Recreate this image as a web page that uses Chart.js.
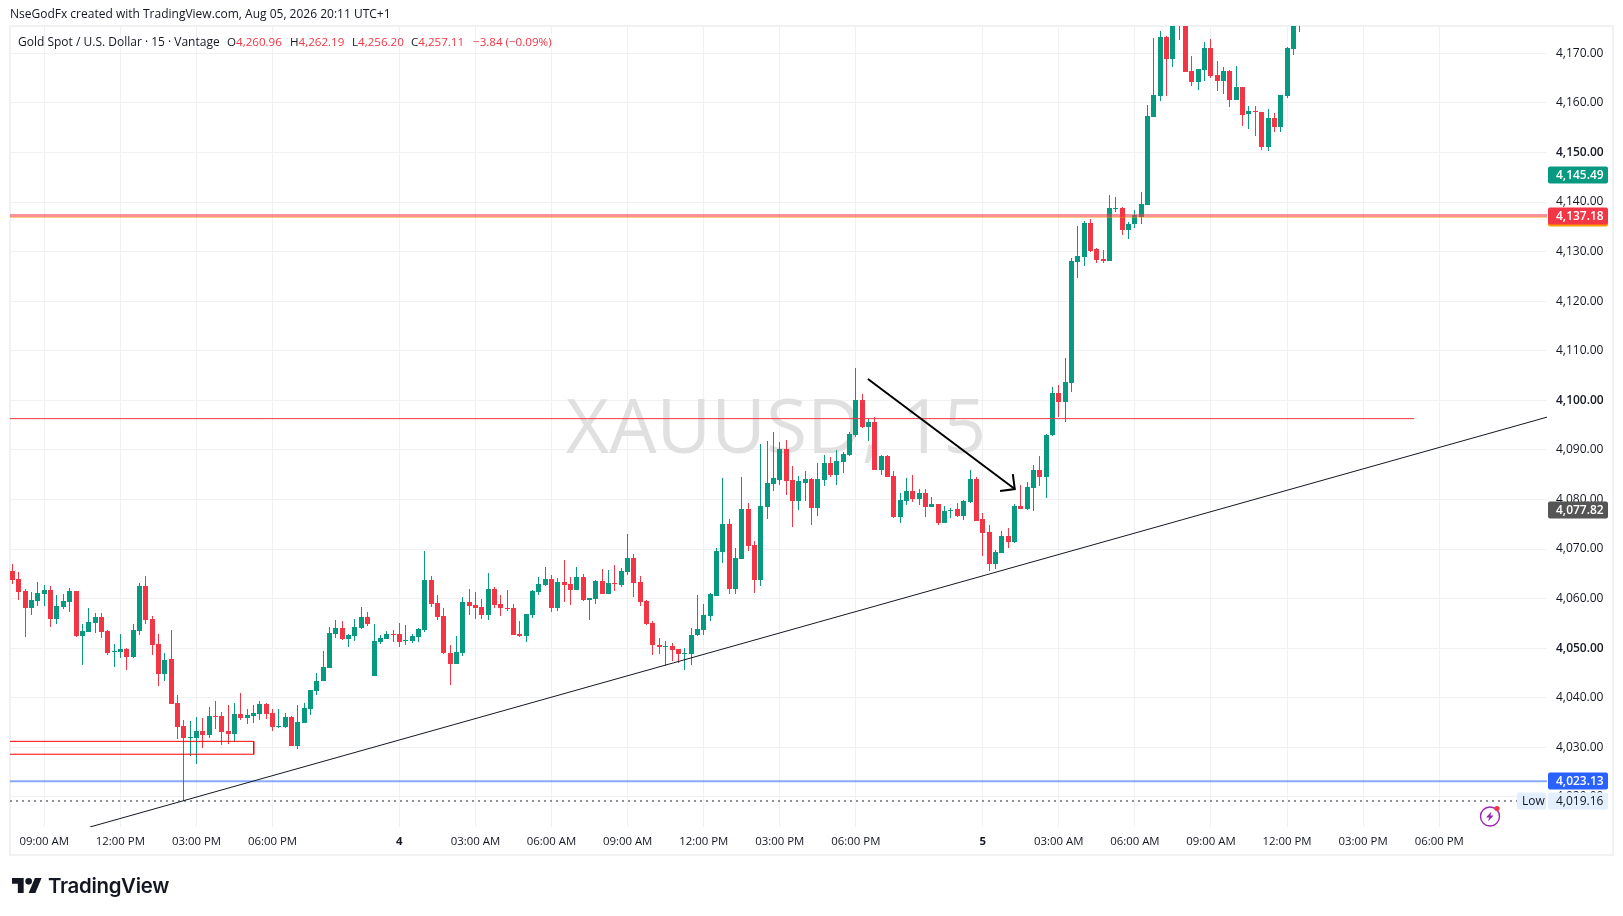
<!DOCTYPE html>
<html>
<head>
<meta charset="utf-8">
<title>XAUUSD 15</title>
<script src="https://cdn.jsdelivr.net/npm/chart.js@4"></script>
<style>
  html, body { margin: 0; padding: 0; background: #fff; }
  body { width: 1623px; height: 916px; position: relative; overflow: hidden; font-family: "Open Sans", sans-serif; color: #131722; }
  canvas { position: absolute; left: 0; top: 0; }
  .txt { position: absolute; white-space: pre; font-size: 12px; line-height: 16px; }
  .val { font-size: 11.6px; }
  .red { color: #f23645; }
</style>
</head>
<body>
<canvas id="chart" width="1623" height="916"></canvas>

<div class="txt" style="left:10px;top:6px">NseGodFx created with TradingView.com, Aug 05, 2026 20:11 UTC+1</div>
<div class="txt" style="left:18px;top:34px">Gold Spot / U.S. Dollar · 15 · Vantage</div>
<div class="txt val" style="left:227px;top:34px">O<span class="red">4,260.96</span></div>
<div class="txt val" style="left:290px;top:34px">H<span class="red">4,262.19</span></div>
<div class="txt val" style="left:352px;top:34px">L<span class="red">4,256.20</span></div>
<div class="txt val" style="left:411px;top:34px">C<span class="red">4,257.11</span></div>
<div class="txt val red" style="left:473px;top:34px">−3.84 (−0.09%)</div>

<svg style="position:absolute;left:12px;top:878px" width="30" height="15" viewBox="0 4 36 18">
  <path fill="#131722" d="M14 22H7V11H0V4h14v18zM28 22h-8l7.5-18h8L28 22z"/>
  <circle fill="#131722" cx="20" cy="8" r="4"/>
</svg>
<div class="txt" style="left:48px;top:872px;font:600 20.4px/28px Inter, sans-serif;letter-spacing:-0.3px">TradingView</div>

<svg style="position:absolute;left:1478px;top:804px" width="24" height="24" viewBox="0 0 24 24">
  <circle cx="12" cy="12.5" r="9.5" fill="none" stroke="#9c27b0" stroke-width="1.4"/>
  <path fill="#9c27b0" d="M13.5 7.5 8 13.5h3.2L10 17.5l5.6-6h-3.2z"/>
  <circle cx="19" cy="4.5" r="2.6" fill="#f23645"/>
</svg>

<script>
const open = [
  4065.6,4064.0,4061.6,4058.0,4059.6,4061.0,4061.8,4055.9,4058.4,4059.4,
  4061.6,4052.5,4053.3,4055.1,4056.3,4053.5,4049.3,4049.3,4049.9,4048.3,
  4053.5,4062.6,4055.9,4050.9,4044.8,4047.8,4039.0,4034.3,4031.9,4031.9,
  4033.3,4032.5,4036.3,4036.3,4033.3,4032.7,4036.7,4035.9,4036.3,4036.7,
  4038.8,4037.0,4034.1,4034.1,4036.1,4030.3,4034.9,4037.8,4041.4,4043.4,
  4046.0,4052.9,4054.1,4051.9,4052.5,4054.1,4056.3,4044.4,4051.3,4051.9,
  4052.9,4052.9,4051.5,4051.5,4052.3,4053.7,4063.8,4059.2,4056.5,4049.1,
  4046.9,4049.1,4059.4,4058.8,4058.4,4056.7,4062.0,4059.0,4058.2,4058.0,
  4052.9,4052.5,4056.7,4061.4,4062.8,4064.0,4058.0,4063.4,4063.0,4061.8,
  4064.4,4059.8,4060.0,4063.6,4061.0,4063.2,4062.8,4065.4,4068.2,4063.4,
  4059.6,4055.1,4050.7,4050.3,4050.5,4049.9,4048.9,4048.8,4052.7,4053.7,
  4056.5,4060.6,4069.3,4075.0,4061.85,4067.9,4078.0,4070.9,4063.7,4078.4,
  4083.2,4083.9,4090.1,4083.9,4079.6,4083.4,4084.1,4078.2,4083.9,4087.3,
  4084.9,4087.5,4088.9,4093.1,4100.0,4094.55,4095.6,4085.9,4088.7,4084.7,
  4076.4,4079.6,4081.8,4080.0,4081.4,4078.4,4079.0,4075.2,4077.6,4078.0,
  4076.6,4079.4,4084.1,4076.0,4073.4,4066.9,4069.1,4072.6,4071.5,4078.6,
  4078.1,4082.3,4086.0,4084.5,4093.0,4101.4,4099.6,4103.4,4128.0,4129.0,
  4135.85,4130.6,4128.6,4128.2,4138.5,4138.7,4134.4,4135.5,4137.05,4139.4,
  4157.1,4161.4,4173.3,4168.9,4176.5,4178.0,4166.4,4164.2,4166.6,4171.1,
  4165.6,4164.4,4166.4,4160.6,4163.2,4157.8,4158.4,4158.2,4151.1,4156.9,
  4155.1,4161.4,4170.9,4176.5
];
const high = [
  4067.0,4065.4,4062.0,4061.4,4063.4,4062.8,4062.6,4060.8,4061.0,4062.2,
  4061.6,4054.9,4058.2,4057.1,4057.1,4053.7,4050.9,4052.9,4050.1,4054.9,
  4063.2,4064.6,4056.5,4052.9,4049.1,4053.7,4040.6,4035.5,4035.3,4036.1,
  4035.9,4038.2,4039.4,4037.2,4038.6,4039.0,4041.0,4037.8,4038.6,4039.4,
  4039.0,4037.8,4037.8,4037.0,4036.3,4038.6,4039.0,4041.6,4045.0,4049.5,
  4054.3,4055.7,4055.5,4052.9,4055.9,4058.4,4057.3,4054.9,4052.7,4053.5,
  4053.7,4055.1,4054.7,4052.9,4054.1,4069.5,4064.6,4060.8,4058.2,4050.7,
  4052.5,4060.4,4062.0,4061.4,4060.0,4065.2,4062.4,4060.8,4061.8,4059.0,
  4055.5,4056.9,4061.8,4064.4,4066.4,4064.8,4064.2,4067.8,4064.4,4066.4,
  4065.0,4060.2,4063.8,4066.0,4065.8,4066.8,4066.2,4073.1,4068.9,4064.6,
  4059.8,4055.5,4052.1,4051.5,4051.1,4049.9,4050.1,4054.1,4060.7,4058.9,
  4061.1,4070.3,4084.3,4076.0,4070.3,4084.5,4079.2,4071.7,4091.1,4091.7,
  4093.7,4091.5,4091.9,4086.7,4084.7,4085.7,4084.3,4087.3,4088.9,4088.5,
  4089.9,4089.5,4093.7,4106.5,4101.2,4096.2,4096.6,4088.9,4088.9,4085.7,
  4081.2,4084.3,4084.9,4082.2,4082.2,4080.4,4079.0,4078.6,4078.2,4079.2,
  4079.8,4085.9,4084.5,4077.2,4074.8,4069.9,4073.6,4074.2,4079.0,4083.0,
  4083.5,4087.0,4088.8,4093.2,4102.6,4103.0,4108.5,4128.7,4135.2,4136.2,
  4136.65,4130.8,4130.4,4141.5,4141.1,4138.9,4136.0,4138.3,4142.1,4159.6,
  4173.1,4174.5,4173.5,4178.0,4180.0,4179.0,4169.5,4166.8,4172.3,4172.9,
  4168.5,4167.2,4166.6,4167.4,4163.2,4159.4,4159.4,4158.2,4158.8,4158.0,
  4161.6,4171.3,4176.5,4179.0
];
const low = [
  4063.0,4059.8,4052.3,4056.7,4058.6,4058.6,4054.3,4054.9,4057.8,4057.3,
  4052.3,4046.6,4053.3,4053.1,4052.1,4048.7,4046.2,4048.1,4045.6,4048.1,
  4052.7,4054.9,4048.7,4042.4,4043.4,4038.8,4031.7,4019.16,4028.3,4026.7,
  4029.9,4031.9,4033.7,4030.5,4030.7,4031.1,4035.5,4034.7,4034.9,4035.5,
  4035.7,4033.3,4033.9,4033.9,4030.3,4029.7,4034.9,4036.5,4040.6,4043.4,
  4046.0,4052.1,4051.7,4050.3,4051.5,4053.9,4054.5,4044.4,4050.9,4051.9,
  4051.3,4050.3,4050.7,4051.1,4051.3,4053.3,4058.4,4055.7,4048.9,4042.6,
  4046.9,4048.5,4056.7,4055.9,4055.9,4055.7,4058.2,4056.5,4057.5,4052.7,
  4052.3,4051.3,4056.1,4060.8,4062.6,4057.3,4057.5,4059.4,4058.8,4061.8,
  4059.6,4055.7,4059.0,4061.0,4061.0,4061.6,4062.4,4064.8,4060.4,4058.6,
  4054.7,4048.7,4048.9,4046.4,4047.4,4047.1,4045.6,4046.6,4052.5,4052.7,
  4055.5,4060.6,4067.1,4061.0,4061.0,4067.9,4069.5,4061.2,4062.5,4076.0,
  4081.8,4083.0,4080.8,4074.4,4077.8,4079.6,4074.8,4076.6,4082.8,4084.5,
  4083.0,4085.3,4088.7,4092.5,4094.35,4091.7,4085.9,4084.9,4084.5,4076.2,
  4075.2,4078.8,4079.4,4078.8,4076.4,4078.4,4074.8,4075.2,4076.2,4076.4,
  4075.8,4079.2,4075.6,4068.5,4065.5,4065.9,4069.1,4070.3,4071.3,4078.0,
  4077.9,4077.7,4082.7,4080.3,4092.8,4096.6,4095.6,4101.6,4124.6,4127.0,
  4130.0,4127.6,4127.6,4128.2,4137.9,4133.4,4132.6,4134.8,4135.6,4139.4,
  4157.1,4160.4,4161.4,4167.2,4172.7,4166.2,4163.4,4162.6,4164.4,4165.0,
  4162.4,4161.8,4159.2,4160.6,4155.3,4154.7,4153.3,4150.5,4150.3,4154.1,
  4154.1,4161.0,4169.7,4174.3
];
const close = [
  4063.8,4061.4,4058.0,4059.8,4061.2,4061.8,4055.9,4058.6,4059.6,4061.6,
  4052.5,4053.5,4055.3,4056.3,4053.3,4049.1,4049.5,4049.9,4048.3,4053.7,
  4062.6,4055.7,4050.7,4044.8,4047.6,4038.8,4034.1,4031.9,4032.1,4033.3,
  4032.5,4036.3,4036.1,4033.1,4032.7,4036.7,4035.9,4036.5,4037.0,4038.8,
  4036.7,4034.1,4034.3,4036.1,4030.3,4035.1,4038.0,4041.6,4043.4,4046.2,
  4053.1,4054.1,4051.9,4052.7,4054.3,4056.3,4054.9,4051.5,4052.1,4052.9,
  4052.7,4051.3,4051.7,4052.5,4053.9,4063.8,4059.0,4056.3,4049.1,4046.9,
  4049.3,4059.4,4058.6,4058.2,4056.7,4062.0,4058.8,4058.2,4057.8,4052.7,
  4052.5,4056.9,4061.6,4063.0,4064.0,4058.0,4063.4,4062.8,4061.8,4064.4,
  4059.8,4060.2,4063.6,4061.0,4063.2,4063.0,4065.6,4068.2,4063.2,4059.4,
  4054.9,4050.7,4050.3,4050.5,4049.7,4048.9,4049.1,4052.7,4053.9,4056.7,
  4060.9,4069.5,4075.0,4061.85,4068.1,4078.0,4070.7,4063.7,4078.6,4083.4,
  4084.3,4090.1,4083.7,4079.6,4083.7,4084.1,4078.2,4084.1,4087.3,4084.9,
  4087.7,4089.1,4093.3,4100.0,4094.55,4095.6,4085.9,4088.7,4084.5,4076.4,
  4079.8,4081.8,4080.0,4081.4,4078.4,4079.0,4075.2,4077.6,4077.8,4076.6,
  4079.6,4084.1,4075.6,4073.2,4066.9,4069.3,4072.6,4071.5,4078.6,4078.0,
  4082.5,4086.0,4084.5,4093.0,4101.4,4099.6,4103.6,4128.2,4129.2,4135.85,
  4130.2,4128.4,4128.2,4138.7,4138.7,4134.4,4135.6,4137.3,4139.7,4157.3,
  4161.6,4173.3,4168.9,4176.5,4178.0,4166.2,4164.2,4166.8,4171.1,4165.4,
  4164.4,4166.4,4160.6,4163.2,4157.6,4158.4,4158.2,4151.1,4156.9,4155.1,
  4161.6,4171.1,4176.2,4178.0
];

const timeTickIndex = [5, 17, 29, 41, 61, 73, 85, 97, 109, 121, 133, 153, 165, 177, 189, 201, 213, 225];
const timeTickLabels = ['09:00 AM', '12:00 PM', '03:00 PM', '06:00 PM', '4', '03:00 AM', '06:00 AM', '09:00 AM', '12:00 PM', '03:00 PM', '06:00 PM', '5', '03:00 AM', '06:00 AM', '09:00 AM', '12:00 PM', '03:00 PM', '06:00 PM'];
const boldTimeTicks = ['4', '5'];

const priceTicks = [4020, 4030, 4040, 4050, 4060, 4070, 4080, 4090, 4100, 4110, 4120, 4130, 4140, 4150, 4160, 4170];
const boldPriceTicks = [4050, 4100, 4150];

const xMin = -0.41, xMax = 242.0;
const yMin = 4013.92, yMax = 4175.51;

// drawings on the chart
const trendX = [12.2, 242.0], trendY = [4013.92, 4096.6];
const arrowX = [134.9, 158.06], arrowY = [4104.3, 4082.1];
const arrowHeadX = [157.75, 158.06, 155.74], arrowHeadY = [4085.1, 4082.1, 4081.7];
const boxX = [xMin, 38.03, 38.03, xMin], boxY = [4031.2, 4031.2, 4028.6, 4028.6];
const resistanceX = [xMin, 221.04], resistanceY = [4096.3, 4096.3];
const lowX = [xMin, 237.3], lowY = [4019.16, 4019.16];

// price tags on the axis
const tagPrices = [4145.49, 4136.85, 4137.18, 4077.82, 4023.13, 4019.16];
const tagLabels = ['4,145.49', '', '4,137.18', '4,077.82', '4,023.13', '4,019.16'];
const tagColors = ['#089981', '#ff9800', '#f23645', '#555555', '#2962ff', '#e3effd'];
const tagTextColors = ['#fff', '#fff', '#fff', '#fff', '#fff', '#131722'];

const UP = '#089981', DOWN = '#f23645';
const FONT = '"Open Sans", sans-serif';

const candleColors = close.map((c, i) => c >= open[i] ? UP : DOWN);

function segment(xs, ys, color, width, dash) {
  return {
    type: 'line',
    order: 0,
    data: xs.map((x, i) => ({ x, y: ys[i] })),
    borderColor: color,
    borderWidth: width,
    borderDash: dash || [],
    pointRadius: 0,
    tension: 0
  };
}

// round the candles to whole pixels so they are as sharp as on the site
const snapCandles = {
  id: 'snapCandles',
  beforeDatasetsDraw(chart) {
    chart.getSortedVisibleDatasetMetas().forEach(meta => {
      if (meta.type !== 'bar') return;
      meta.data.forEach(el => {
        el.x = Math.floor(el.x) + 0.5;
        el.y = Math.round(el.y);
        el.base = Math.round(el.base);
        if (el.y === el.base) el.base += 1;
      });
    });
  }
};

const watermark = {
  id: 'watermark',
  beforeDatasetsDraw(chart) {
    const ctx = chart.ctx;
    ctx.save();
    ctx.font = '500 75px ' + FONT;
    ctx.fillStyle = '#e0e0e0';
    ctx.textAlign = 'center';
    ctx.textBaseline = 'middle';
    ctx.fillText('XAUUSD, 15', 776, 432);
    ctx.restore();
  }
};

const tags = {
  id: 'tags',
  afterDraw(chart) {
    const ctx = chart.ctx;
    const y = chart.scales.y;
    ctx.save();
    ctx.textBaseline = 'middle';
    tagPrices.forEach((p, i) => {
      const py = Math.round(y.getPixelForValue(p));
      ctx.fillStyle = tagColors[i];
      ctx.beginPath();
      ctx.roundRect(1548, py - 8.5, 60, 17, 2);
      ctx.fill();
      ctx.font = (tagTextColors[i] === '#fff' ? '600 ' : '') + '12px ' + FONT;
      ctx.fillStyle = tagTextColors[i];
      ctx.textAlign = 'left';
      ctx.fillText(tagLabels[i], 1556, py + 0.5);
    });
    // "Low" caption next to the last tag
    const capY = Math.round(y.getPixelForValue(tagPrices[5]));
    ctx.fillStyle = '#e3effd';
    ctx.beginPath();
    ctx.roundRect(1517, capY - 8.5, 29, 17, 2);
    ctx.fill();
    ctx.fillStyle = '#131722';
    ctx.font = '12px ' + FONT;
    ctx.fillText('Low', 1522, capY + 0.5);
    ctx.restore();
  }
};

const frame = {
  id: 'frame',
  beforeDraw(chart) {
    const ctx = chart.ctx;
    ctx.save();
    ctx.strokeStyle = '#f0f1f3';
    ctx.lineWidth = 2;
    ctx.strokeRect(10, 26, 1603, 829);
    ctx.restore();
  }
};

new Chart(document.getElementById('chart').getContext('2d'), {
  type: 'bar',
  data: {
    datasets: [
      segment(trendX, trendY, '#131722', 1),
      segment(arrowX, arrowY, '#000', 2),
      segment(arrowHeadX, arrowHeadY, '#000', 2),
      segment(resistanceX, resistanceY, '#f23645', 1),
      segment(boxX, boxY, '#ff0000', 1),
      segment([xMin, xMax], [4136.9, 4136.9], 'rgba(255,152,0,0.55)', 1),
      segment([xMin, xMax], [4137.3, 4137.3], 'rgba(242,54,69,0.55)', 3),
      segment([xMin, xMax], [4023.13, 4023.13], 'rgba(41,98,255,0.55)', 2),
      segment(lowX, lowY, '#6a6d78', 1.5, [2, 4]),
      {
        order: 1,
        data: open.map((o, i) => ({ x: i, y: [o, close[i]] })),
        backgroundColor: candleColors,
        barThickness: 5,
        inflateAmount: 0,
        grouped: false
      },
      {
        order: 2,
        data: high.map((h, i) => ({ x: i, y: [low[i], h] })),
        backgroundColor: candleColors,
        barThickness: 1,
        inflateAmount: 0,
        grouped: false
      }
    ]
  },
  options: {
    responsive: false,
    animation: false,
    events: [],
    layout: { padding: { left: 10, top: 26, right: 0, bottom: 61 } },
    plugins: { legend: { display: false }, tooltip: { enabled: false } },
    scales: {
      x: {
        type: 'linear',
        min: xMin,
        max: xMax,
        offset: false,
        border: { display: false },
        grid: { color: '#f0f1f3', offset: false, drawTicks: false },
        afterBuildTicks: scale => { scale.ticks = timeTickIndex.map(value => ({ value })); },
        afterFit: scale => { scale.height = 28; },
        ticks: {
          autoSkip: false,
          maxRotation: 0,
          padding: 8,
          color: '#131722',
          font: c => ({
            family: FONT,
            size: 11.4,
            weight: boldTimeTicks.includes(timeTickLabels[timeTickIndex.indexOf(c.tick && c.tick.value)]) ? '700' : '400'
          }),
          callback: value => timeTickLabels[timeTickIndex.indexOf(value)]
        }
      },
      y: {
        position: 'right',
        min: yMin,
        max: yMax,
        border: { display: false },
        grid: { color: '#f0f1f3', drawTicks: false },
        afterBuildTicks: scale => { scale.ticks = priceTicks.map(value => ({ value })); },
        afterFit: scale => { scale.width = 76; },
        ticks: {
          padding: 9,
          color: '#131722',
          font: c => ({
            family: FONT,
            size: 12,
            weight: boldPriceTicks.includes(c.tick && c.tick.value) ? '600' : '400'
          }),
          callback: value => value.toLocaleString('en-US', { minimumFractionDigits: 2 })
        }
      }
    }
  },
  plugins: [frame, watermark, snapCandles, tags]
});
</script>
</body>
</html>
